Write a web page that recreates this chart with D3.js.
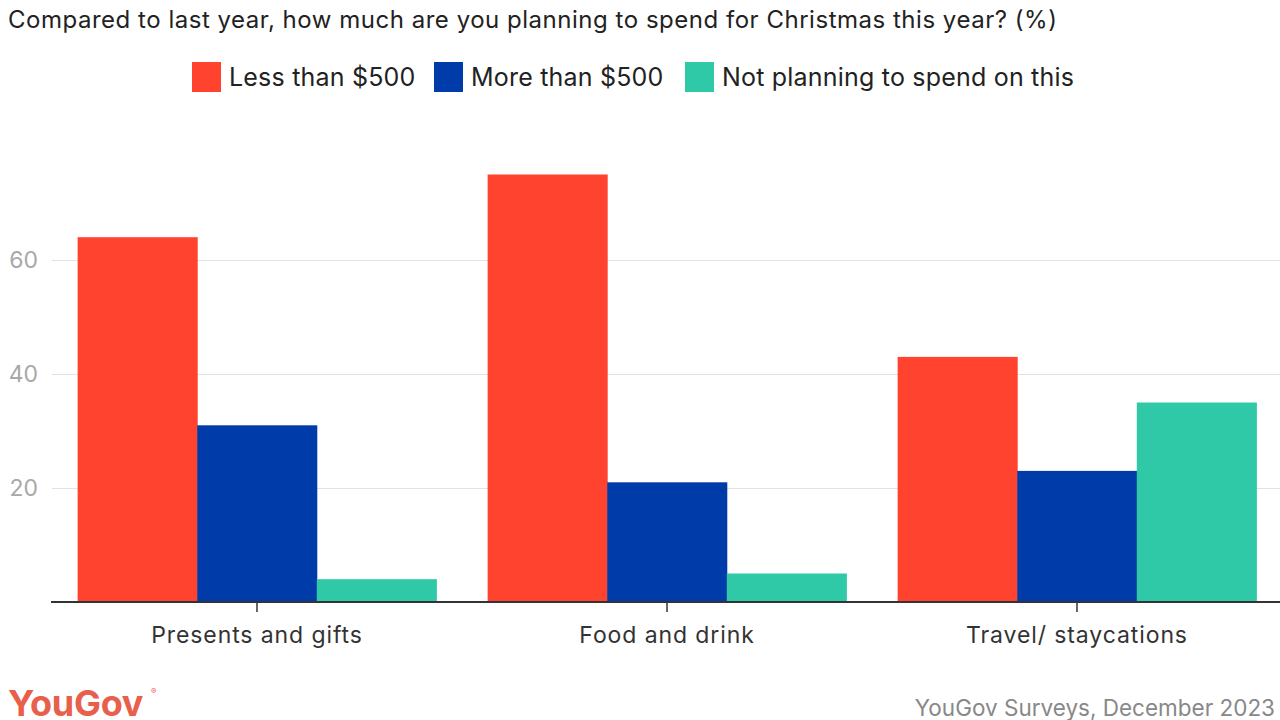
<!DOCTYPE html>
<html><head><meta charset="utf-8">
<script src="https://cdn.jsdelivr.net/npm/d3@7"></script>
<style>body{margin:0;background:#fff}svg{display:block}text{font-family:Inter,"Open Sans",sans-serif}</style>
</head><body><svg id="c" width="1280" height="720"></svg>
<script>
const categories = ["Presents and gifts", "Food and drink", "Travel/ staycations"];
const seriesNames = ["Less than $500", "More than $500", "Not planning to spend on this"];
const lessThan500 = [64, 75, 43];
const moreThan500 = [31, 21, 23];
const notPlanning = [4, 5, 35];
const yTicks = [20, 40, 60];
const colors = ["#ff432e", "#003ca9", "#2fc9a7"];
const seriesValues = [lessThan500, moreThan500, notPlanning];

const svg = d3.select("#c");
const yBase = 602, yPerUnit = 5.7;
const y = d3.scaleLinear().domain([0, 60]).range([yBase, yBase - 60 * yPerUnit]);
const x0 = d3.scaleBand().domain(categories).range([52, 1282]).paddingInner(0.125).paddingOuter(0.0625);
const x1 = d3.scaleBand().domain(seriesNames).range([0, x0.bandwidth()]);

svg.append("text").attr("x", 8).attr("y", 28).attr("font-size", 24).attr("letter-spacing", 0.52).attr("fill", "#222")
  .text("Compared to last year, how much are you planning to spend for Christmas this year? (%)");

// legend
const legendX = [192, 434, 685];
seriesNames.forEach((s, i) => {
  svg.append("rect").attr("x", legendX[i]).attr("y", 62).attr("width", 29).attr("height", 30).attr("fill", colors[i]);
  svg.append("text").attr("x", legendX[i] + 37).attr("y", 86).attr("font-size", 25).attr("letter-spacing", 0.2).attr("fill", "#222").text(s);
});

// grid
const grid = svg.append("g").attr("transform", "translate(52,0)")
  .call(d3.axisLeft(y).tickValues(yTicks).tickSize(-1228).tickFormat(d3.format("d")).tickPadding(14));
grid.select(".domain").remove();
grid.selectAll(".tick line").attr("stroke", "#e2e2e2").attr("stroke-width", 1.2);
grid.selectAll(".tick text").attr("font-size", 23).attr("fill", "#a8a8a8").attr("font-family", "Inter,sans-serif");

// bars
const g = svg.append("g");
categories.forEach((c, ci) => {
  seriesNames.forEach((s, si) => {
    const v = seriesValues[si][ci];
    g.append("rect").attr("x", x0(c) + x1(s)).attr("width", x1.bandwidth() + 0.5)
      .attr("y", y(v)).attr("height", y(0) - y(v)).attr("fill", colors[si]);
  });
});

// x axis
const xa = svg.append("g").attr("transform", `translate(0,${yBase})`).call(d3.axisBottom(x0).tickSize(10).tickPadding(15));
xa.select(".domain").attr("d", "M51,0H1280").attr("stroke", "#333").attr("stroke-width", 2);
xa.selectAll(".tick line").attr("stroke", "#333").attr("stroke-width", 1.5);
xa.selectAll(".tick text").attr("font-size", 23).attr("letter-spacing", 0.9).attr("fill", "#333").attr("font-family", "Inter,sans-serif");

// footer
svg.append("text").attr("x", 8).attr("y", 716).attr("font-size", 36).attr("font-weight", 700)
  .attr("fill", "#e8604c").attr("letter-spacing", -0.3).text("YouGov");
svg.append("text").attr("x", 151).attr("y", 694).attr("font-size", 8).attr("fill", "#e8604c").text("®");
svg.append("text").attr("x", 1275).attr("y", 716).attr("text-anchor", "end").attr("font-size", 22.5)
  .attr("fill", "#888").text("YouGov Surveys, December 2023");
</script></body></html>
